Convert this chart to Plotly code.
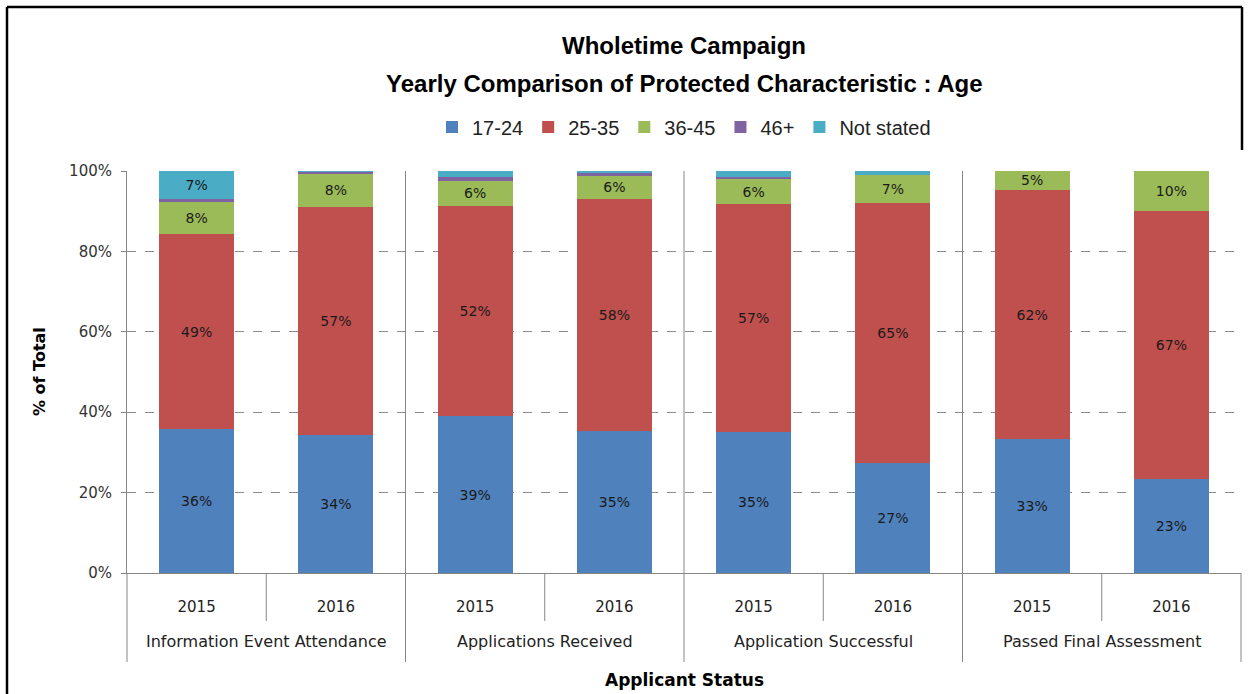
import plotly.graph_objects as go

# Applicant stages and campaign years
groups = ["Information Event Attendance", "Applications Received",
          "Application Successful", "Passed Final Assessment"]
years = ["2015", "2016"]

# Share of applicants (%) per age band, one value per stage/year bar
age_17_24 = [35.7, 34.3, 39.0, 35.4, 35.1, 27.4, 33.3, 23.4]
age_25_35 = [48.6, 56.8, 52.3, 57.6, 56.6, 64.7, 62.0, 66.6]
age_36_45 = [7.9, 8.4, 6.3, 5.8, 6.2, 6.9, 4.7, 10.0]
age_46_plus = [0.9, 0.3, 1.0, 0.8, 0.7, 0.0, 0.0, 0.0]
not_stated = [6.9, 0.2, 1.4, 0.4, 1.4, 1.0, 0.0, 0.0]

y_ticks = [0, 20, 40, 60, 80, 100]

series = [
    ("17-24", age_17_24, "#4F81BD"),
    ("25-35", age_25_35, "#C0504D"),
    ("36-45", age_36_45, "#9BBB59"),
    ("46+", age_46_plus, "#8064A2"),
    ("Not stated", not_stated, "#4BACC6"),
]

# one category per stage/year bar; the axis shows the year, the stage goes underneath
bar_keys = [f"{g} {y}" for g in groups for y in years]
bar_years = [y for _ in groups for y in years]

W, H = 1256, 694
ML, MR, MT, MB = 127, 15, 171, 121
PW, PH = W - ML - MR, H - MT - MB


def px_x(p):
    return (p - ML) / PW


def px_y(p):
    return (H - MB - p) / PH


LABEL_FONT = "DejaVu Sans, Verdana, sans-serif"
TITLE_FONT = "Liberation Sans, Arial, sans-serif"
AXIS_GREY = "#868686"

fig = go.Figure()
for name, vals, color in series:
    fig.add_trace(go.Bar(
        name=name,
        x=bar_keys,
        y=vals,
        marker=dict(color=color, line=dict(width=0)),
        text=[f"{v:.0f}%" if v >= 3 else "" for v in vals],
        textposition="inside",
        insidetextanchor="middle",
        textangle=0,
        insidetextfont=dict(family=LABEL_FONT, size=14, color="#1a1a1a"),
        hoverinfo="skip",
    ))

fig.update_layout(
    width=W, height=H,
    margin=dict(l=ML, r=MR, t=MT, b=MB),
    barmode="stack",
    bargap=0.46,
    paper_bgcolor="white",
    plot_bgcolor="white",
    uniformtext=dict(minsize=14, mode="show"),
    legend=dict(
        orientation="h",
        x=0.5, xanchor="center",
        y=px_y(127), yanchor="middle",
        font=dict(family=TITLE_FONT, size=20, color="#222"),
        traceorder="normal",
    ),
)

fig.update_yaxes(
    range=[0, 100],
    tickvals=y_ticks,
    ticktext=[f"{v}%" for v in y_ticks],
    showgrid=True,
    gridcolor="#8c8c8c",
    griddash="dash",
    gridwidth=1,
    zeroline=False,
    showline=True,
    linecolor=AXIS_GREY,
    linewidth=1,
    ticks="outside",
    ticklen=5,
    tickcolor=AXIS_GREY,
    tickfont=dict(family=LABEL_FONT, size=15, color="#333"),
    ticklabelstandoff=6,
)

fig.update_xaxes(
    type="category",
    categoryorder="array",
    categoryarray=bar_keys,
    tickvals=bar_keys,
    ticktext=bar_years,
    showline=True,
    linecolor=AXIS_GREY,
    linewidth=1,
    showgrid=False,
    ticks="",
    ticklabelstandoff=20,
    tickfont=dict(family=LABEL_FONT, size=15, color="#222"),
)

shapes = []
axis_line = dict(color=AXIS_GREY, width=1)
n_bars = len(bar_keys)
# stage separators: through the plot area and down past the stage labels
for g in range(len(groups) + 1):
    xs = g / len(groups)
    top = 1 if 0 < g < len(groups) else 0
    shapes.append(dict(type="line", xref="paper", yref="paper",
                       x0=xs, x1=xs, y0=top, y1=px_y(662), line=axis_line))
# year separators within each stage, below the axis
for g in range(len(groups)):
    xs = (g * len(years) + 1) / n_bars
    shapes.append(dict(type="line", xref="paper", yref="paper",
                       x0=xs, x1=xs, y0=0, y1=px_y(621), line=axis_line))
# chart frame
frame = dict(color="black", width=2.5)
shapes.append(dict(type="line", xref="paper", yref="paper",
                   x0=px_x(7), x1=px_x(7), y0=px_y(7), y1=px_y(H + 5), line=frame))
shapes.append(dict(type="line", xref="paper", yref="paper",
                   x0=px_x(7), x1=px_x(1242), y0=px_y(7), y1=px_y(7), line=frame))
shapes.append(dict(type="line", xref="paper", yref="paper",
                   x0=px_x(1242), x1=px_x(1242), y0=px_y(7), y1=px_y(150), line=frame))
fig.update_layout(shapes=shapes)

annotations = [
    dict(text="<b>Wholetime Campaign</b>", x=0.5, y=px_y(45),
         font=dict(family=TITLE_FONT, size=24, color="black")),
    dict(text="<b>Yearly Comparison of Protected Characteristic : Age</b>", x=0.5, y=px_y(83),
         font=dict(family=TITLE_FONT, size=24, color="black")),
    dict(text="<b>Applicant Status</b>", x=0.5, y=px_y(680),
         font=dict(family=LABEL_FONT, size=17, color="black")),
    dict(text="<b>% of Total</b>", x=px_x(39), y=0.5, textangle=-90,
         font=dict(family=LABEL_FONT, size=16, color="black")),
]
# stage names centred under each pair of bars
for g, name in enumerate(groups):
    annotations.append(dict(text=name, x=(g + 0.5) / len(groups), y=px_y(641),
                            font=dict(family=LABEL_FONT, size=16, color="#222")))
for a in annotations:
    a.update(xref="paper", yref="paper", showarrow=False,
             xanchor="center", yanchor="middle")
fig.update_layout(annotations=annotations)

fig.write_html("out.html")
